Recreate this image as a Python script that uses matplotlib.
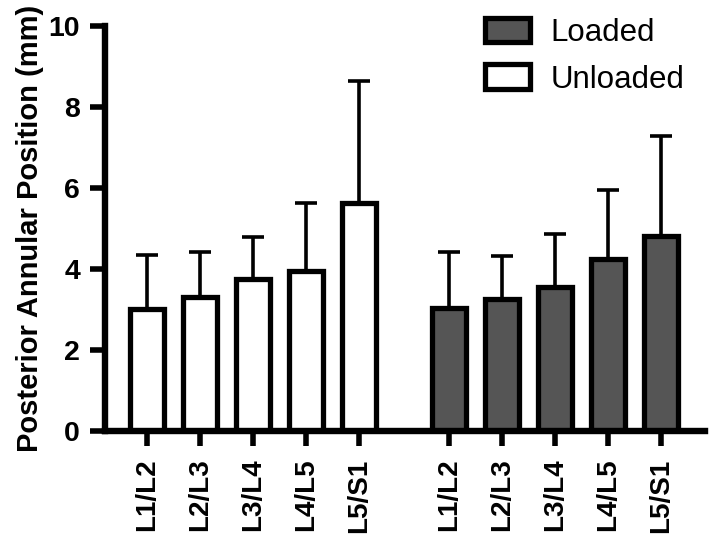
import numpy as np
import matplotlib.pyplot as plt
from matplotlib.patches import Patch

plt.rcParams['font.family'] = ['Liberation Sans', 'DejaVu Sans']

LEVELS = ['L1/L2', 'L2/L3', 'L3/L4', 'L4/L5', 'L5/S1']
UNLOADED = [3.02, 3.31, 3.74, 3.96, 5.62]
UNLOADED_TOP = [4.34, 4.42, 4.78, 5.63, 8.65]
LOADED = [3.03, 3.26, 3.56, 4.24, 4.82]
LOADED_TOP = [4.43, 4.31, 4.85, 5.96, 7.29]

LOADED_COLOR = '#555555'
GROUP_OFFSET = 5.7
BAR_WIDTH = 0.64


def draw_group(ax, x, heights, tops, color):
    heights = np.array(heights)
    err = np.array(tops) - heights
    ax.errorbar(x, heights, yerr=[np.zeros_like(err), err], fmt='none',
                ecolor='black', elinewidth=2.6, capsize=8, capthick=2.6, zorder=1)
    ax.bar(x, heights, width=BAR_WIDTH, color=color, edgecolor='black',
           linewidth=3.8, zorder=2)


fig = plt.figure(figsize=(7.09, 5.40), dpi=100)
ax = fig.add_axes([0.148, 0.202, 0.846, 0.750])

x_un = np.arange(len(LEVELS))
x_lo = x_un + GROUP_OFFSET
draw_group(ax, x_un, UNLOADED, UNLOADED_TOP, 'white')
draw_group(ax, x_lo, LOADED, LOADED_TOP, LOADED_COLOR)

ax.set_ylim(0, 10)
ax.set_xlim(-0.8, x_lo[-1] + 0.83)
ax.set_yticks([0, 2, 4, 6, 8, 10])
ax.set_xticks(np.concatenate([x_un, x_lo]))
ax.set_xticklabels(LEVELS + LEVELS, rotation=90, fontsize=20, fontweight='bold')
for lab in ax.get_yticklabels():
    lab.set_fontsize(20.5)
    lab.set_fontweight('bold')
ax.tick_params(axis='both', width=4.0, length=11, color='black')
ax.tick_params(axis='x', pad=9)
ax.tick_params(axis='y', pad=7)

for side in ['top', 'right']:
    ax.spines[side].set_visible(False)
for side in ['left', 'bottom']:
    ax.spines[side].set_linewidth(4.6)

ax.set_ylabel('Posterior Annular Position (mm)', fontsize=21, fontweight='bold', labelpad=3)

handles = [Patch(facecolor=LOADED_COLOR, edgecolor='black', linewidth=3.8, label='Loaded'),
           Patch(facecolor='white', edgecolor='black', linewidth=3.8, label='Unloaded')]
ax.legend(handles=handles, loc='upper left', bbox_to_anchor=(0.684, 0.967),
          bbox_transform=fig.transFigure, frameon=False, borderpad=0, borderaxespad=0,
          fontsize=22.5, handlelength=1.44, handleheight=0.83, handletextpad=0.65,
          labelspacing=0.53)

fig.savefig('out.png', dpi=100)
